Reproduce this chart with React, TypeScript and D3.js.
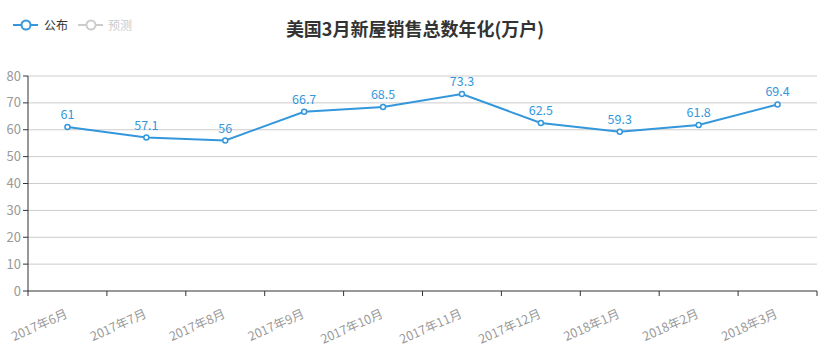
import React from "react";
import * as d3 from "d3";

const categories = ["2017年6月", "2017年7月", "2017年8月", "2017年9月", "2017年10月", "2017年11月", "2017年12月", "2018年1月", "2018年2月", "2018年3月"];
const values = [61, 57.1, 56, 66.7, 68.5, 73.3, 62.5, 59.3, 61.8, 69.4];
const yTicks = [0, 10, 20, 30, 40, 50, 60, 70, 80];
const title = "美国3月新屋销售总数年化(万户)";
const legendItems = ["公布", "预测"];

const W = 827, H = 360;
const left = 28, right = 817, top = 76, bottom = 291;
const blue = "#3497dc";
const font = "'Noto Sans CJK SC', 'Noto Sans', sans-serif";

export default function App() {
  const x = d3.scaleBand<string>().domain(categories).range([left, right]);
  const y = d3.scaleLinear().domain([0, 80]).range([bottom, top]);
  const line = d3.line<number>().x((_, i) => (x(categories[i]) as number) + x.bandwidth() / 2).y((d) => y(d));
  const ticksX = [...categories.map((c) => x(c) as number), right];
  return (
    <svg width={W} height={H} style={{ position: "absolute", left: 0, top: 0, fontFamily: font }}>
      <rect width={W} height={H} fill="#fff" />
      {/* legend */}
      <g>
        <line x1={13} x2={38} y1={25} y2={25} stroke={blue} strokeWidth={2} />
        <circle cx={26} cy={25} r={4.5} fill="#fff" stroke={blue} strokeWidth={2} />
        <text x={44} y={29.5} fontSize={12} fill="#333">{legendItems[0]}</text>
        <line x1={78} x2={103} y1={25} y2={25} stroke="#ccc" strokeWidth={2} />
        <circle cx={91} cy={25} r={4.5} fill="#fff" stroke="#ccc" strokeWidth={2} />
        <text x={108} y={29.5} fontSize={12} fill="#ccc">{legendItems[1]}</text>
      </g>
      <text x={415} y={36} textAnchor="middle" fontSize={18} fontWeight="bold" fill="#333">{title}</text>
      {/* grid */}
      {yTicks.map((t) => (
        <g key={t}>
          {t > 0 && <line x1={left} x2={right} y1={y(t)} y2={y(t)} stroke="#ccc" strokeWidth={1} />}
          <line x1={left - 5} x2={left} y1={y(t)} y2={y(t)} stroke="#333" strokeWidth={1} />
          <text x={left - 7} y={y(t) + 4.5} textAnchor="end" fontSize={13} fill="#999">{t}</text>
        </g>
      ))}
      <line x1={left} x2={left} y1={top} y2={bottom} stroke="#333" strokeWidth={1} />
      <line x1={left} x2={right} y1={bottom} y2={bottom} stroke="#333" strokeWidth={1} />
      {ticksX.map((tx, i) => (
        <line key={i} x1={tx} x2={tx} y1={bottom} y2={bottom + 5} stroke="#333" strokeWidth={1} />
      ))}
      {categories.map((c) => {
        const cx = (x(c) as number) + x.bandwidth() / 2;
        return (
          <text key={c} transform={`translate(${cx + 1},${bottom + 26}) rotate(-24)`} textAnchor="end" fontSize={12.5} fill="#999">{c}</text>
        );
      })}
      <path d={line(values) || ""} fill="none" stroke={blue} strokeWidth={2} />
      {values.map((v, i) => {
        const cx = (x(categories[i]) as number) + x.bandwidth() / 2;
        return (
          <g key={i}>
            <circle cx={cx} cy={y(v)} r={2.5} fill="#fff" stroke={blue} strokeWidth={1.5} />
            <text x={cx} y={y(v) - 8} textAnchor="middle" fontSize={12.5} fill={blue}>{v}</text>
          </g>
        );
      })}
    </svg>
  );
}
